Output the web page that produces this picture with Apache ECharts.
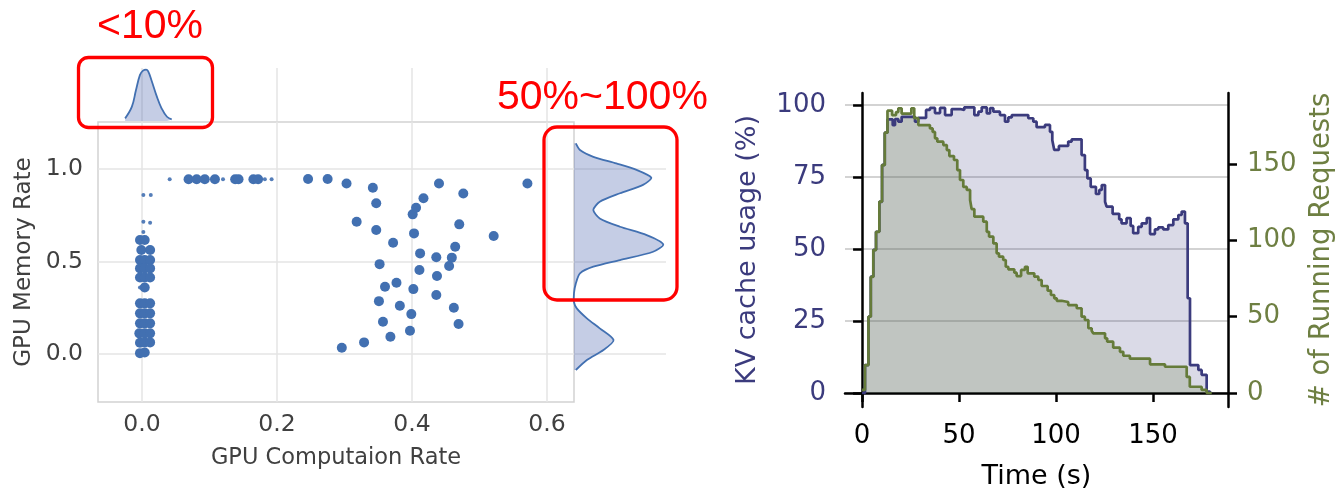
<!DOCTYPE html>
<html>
<head>
<meta charset="utf-8">
<script src="https://cdn.jsdelivr.net/npm/echarts@6/dist/echarts.min.js"></script>
<style>
  html, body { margin: 0; padding: 0; background: #fff; }
  #chart { width: 1337px; height: 492px; }
</style>
</head>
<body>
<div id="chart"></div>
<script>
// ---------------- Left panel: GPU computation vs memory (joint plot) ----------------
const scatterMain = [
  // cluster at ~0 computation
  [-0.003, 0.616], [0.004, 0.616], [-0.001, 0.562], [0.012, 0.562],
  [-0.003, 0.508], [0.004, 0.508], [0.012, 0.508],
  [-0.003, 0.463], [0.004, 0.463], [0.012, 0.463],
  [-0.003, 0.414], [0.004, 0.414], [0.012, 0.414],
  [0.004, 0.36],
  [-0.003, 0.274], [0.004, 0.274], [0.012, 0.274],
  [-0.003, 0.22], [0.004, 0.22], [0.012, 0.22],
  [-0.003, 0.166], [0.004, 0.166], [0.012, 0.166],
  [-0.004, 0.112], [0.004, 0.112], [0.012, 0.112],
  [-0.003, 0.061], [0.004, 0.063], [0.012, 0.063],
  [-0.003, 0.005], [0.004, 0.008],
  // row at high memory
  [0.069, 0.945], [0.081, 0.945], [0.093, 0.945], [0.108, 0.945], [0.138, 0.945],
  [0.143, 0.945], [0.165, 0.945], [0.172, 0.945], [0.246, 0.946], [0.275, 0.946],
  // spread points
  [0.303, 0.922], [0.342, 0.899], [0.347, 0.815], [0.318, 0.715], [0.347, 0.670],
  [0.372, 0.602], [0.352, 0.486], [0.360, 0.364], [0.377, 0.385], [0.351, 0.286],
  [0.382, 0.261], [0.357, 0.175], [0.368, 0.094], [0.329, 0.063], [0.296, 0.034],
  [0.397, 0.126], [0.399, 0.216], [0.402, 0.351], [0.411, 0.454], [0.412, 0.544],
  [0.403, 0.652], [0.401, 0.755], [0.406, 0.791], [0.417, 0.842], [0.440, 0.922],
  [0.476, 0.868], [0.470, 0.701], [0.464, 0.580], [0.459, 0.521], [0.455, 0.476],
  [0.436, 0.523], [0.437, 0.422], [0.436, 0.319], [0.462, 0.250], [0.469, 0.162],
  [0.521, 0.638], [0.571, 0.922]
];
const scatterFaint = [
  [0.002, 0.86], [0.013, 0.86], [0.002, 0.715], [0.012, 0.71], [0.002, 0.66],
  [-0.003, 0.36], [0.041, 0.945], [0.120, 0.945], [0.182, 0.945], [0.192, 0.945]
];
// marginal density of computation rate (top)
const topKdeX       = [-0.025, -0.015, -0.009, -0.003, 0.0015, 0.006, 0.009, 0.014, 0.022, 0.029, 0.037, 0.044];
const topKdeDensity = [0.05, 0.27, 0.58, 0.87, 0.95, 0.97, 0.94, 0.77, 0.46, 0.24, 0.08, 0.03];
// marginal density of memory rate (right)
const rightKdeY = [1.139, 1.103, 1.066, 1.03, 0.995, 0.953, 0.914, 0.869, 0.823, 0.778, 0.733, 0.688,
  0.643, 0.593, 0.553, 0.508, 0.472, 0.436, 0.382, 0.33, 0.28, 0.247, 0.193, 0.139, 0.076, 0.022, -0.032, -0.086];
const rightKdeDensity = [0.02, 0.065, 0.21, 0.46, 0.68, 0.84, 0.75, 0.50, 0.28, 0.21, 0.28, 0.50,
  0.79, 0.97, 0.86, 0.50, 0.21, 0.065, 0.02, 0.0, 0.0, 0.03, 0.14, 0.28, 0.43, 0.32, 0.14, 0.02];
const compTicks = [0, 0.2, 0.4, 0.6];
const memTicks = [0, 0.5, 1.0];

// ---------------- Right panel: KV cache usage and running requests over time ----------------
const kvTime = [0, 1.5, 3.3, 4.5, 5.8, 7.2, 8.9, 10.3, 11.7, 13.1, 15.8, 17, 18.7, 20.4, 27.3, 29, 33, 35,
  37.6, 40.2, 42.8, 46.2, 50.5, 52.7, 57.9, 60, 61.7, 64.3, 66, 67.7, 71.1, 73.7, 75.4, 77.2, 85.7, 88.3,
  90, 94.3, 96.9, 98.1, 99.1, 101.5, 106.3, 108.1, 113.2, 114.9, 116.2, 117.9, 120.6, 122.3, 123.6, 125.3,
  126.1, 129.2, 132.6, 133.8, 136.4, 138.5, 139.8, 142.4, 144.2, 146.8, 148.5, 151, 152.7, 155.3, 157.9,
  160.5, 163.1, 164.8, 166.5, 167.9, 169.1, 173.4, 175.1, 177.7, 179.4];
const kvUsage = [0, 9.7, 26.5, 40.4, 49.7, 56, 66.4, 79.2, 90.4, 95, 93, 95.1, 94.2, 95.9, 94.2, 95.5, 98.3, 99,
  97.2, 99, 96.5, 98.6, 98.3, 99.2, 96.5, 97.7, 99.2, 97.1, 98.9, 97.7, 96.5, 94.2, 95.7, 96.5, 95.4, 94.2,
  92.3, 93.1, 90.7, 87.8, 84.4, 85.8, 87.3, 88.1, 82.6, 77.4, 74.5, 71.6, 69.1, 70.5, 72.2, 66.4,
  64.7, 62.2, 60.3, 58.9, 60.7, 58, 55.5, 57.7, 58.9, 60.7, 55.2, 56.8, 57.5, 56.8, 58.3,
  60.3, 61.8, 63, 58.9, 32.9, 9.7, 8, 6.3, 0.5, 0];
const reqTime = [0, 1.5, 3.3, 4.5, 5.8, 7.2, 8.9, 10.3, 11.7, 13.1, 15.5, 17.5, 18.7, 20.4, 25.4, 26.9, 29, 35,
  36.4, 37.6, 38.8, 41.9, 43.7, 45, 47.4, 49.1, 50.5, 52.2, 54, 55.7, 56.5, 57.9, 62.5, 64.3, 65.5, 67.7,
  69.4, 70.6, 72.8, 74.1, 75.4, 78.5, 79.7, 82, 84, 85.4, 88.8, 90.9, 92.6, 95.7, 97.4, 99.1, 100.4, 102.9,
  106.3, 110.7, 113.2, 114.9, 116.7, 118.4, 119.2, 125.3, 126.4, 129.5, 133, 134.7, 138.1, 148.5, 156.2,
  167.4, 169, 175.1, 177.7, 180.3];
const reqCount = [2, 18.3, 50, 76, 93.6, 105.6, 125.3, 149.3, 170.5, 184.9, 182, 184, 186.5, 183, 186.5, 180, 175.5, 173.3,
  171, 166.8, 164.6, 162.4, 159.1, 155.2, 152.6, 146, 139.5, 135, 133, 126.4, 120.5, 115.5, 112.2, 105.6, 102.4, 98,
  91.5, 89.3, 87.1, 82.7, 81, 78.8, 76.6, 80.6, 82.7, 78.4, 76.2, 74, 70.1, 67, 64.2, 62, 60.4, 59.6,
  57.6, 55.5, 50, 47.8, 42.4, 40.8, 39.1, 35.8, 33.6, 29.7, 27, 24.4, 22.5, 18.8, 17.2,
  10.5, 4.1, 2, 0, 0];
const timeTicks = [0, 50, 100, 150];
const kvTicks = [0, 25, 50, 75, 100];
const reqTicks = [0, 50, 100, 150];

// ---------------- Styling ----------------
const FONT = 'DejaVu Sans';
const SEA_BLUE = '#4270b1';
const KDE_FILL = 'rgba(64,90,170,0.3)';
const GRID_L = '#e4e4e4';
const TXT_L = '#404040';
const NAVY = '#3b3b7d';
const OLIVE = '#657b3a';
const OLIVE_TXT = '#6e7f42';

const chart = echarts.init(document.getElementById('chart'), null, { renderer: 'canvas' });

const zip = (a, b) => a.map((v, i) => [v, b[i]]);

const option = {
  animation: false,
  backgroundColor: '#ffffff',
  grid: [
    { left: 98, top: 122, width: 476, height: 280, show: true, borderColor: '#d2d2d2', borderWidth: 1.5,
      backgroundColor: 'transparent', containLabel: false, outerBoundsMode: 'none' },
    { left: 98, top: 68, width: 476, height: 53, containLabel: false, outerBoundsMode: 'none' },
    { left: 574, top: 122, width: 92, height: 280, containLabel: false, outerBoundsMode: 'none' },
    { left: 845, top: 93, width: 383, height: 314, containLabel: false, outerBoundsMode: 'none' }
  ],
  xAxis: [
    {
      gridIndex: 0, type: 'value', min: -0.0652, max: 0.64,
      axisLine: { show: false }, axisTick: { show: false, customValues: compTicks },
      axisLabel: { customValues: compTicks, formatter: v => v.toFixed(1), color: TXT_L, fontFamily: FONT, fontSize: 23.5, margin: 11 },
      splitLine: { show: true, lineStyle: { color: GRID_L, width: 1.5 } },
      name: 'GPU Computaion Rate', nameLocation: 'middle', nameGap: 45,
      nameTextStyle: { color: TXT_L, fontFamily: FONT, fontSize: 22.5 }
    },
    {
      gridIndex: 1, type: 'value', min: -0.0652, max: 0.64,
      axisLine: { show: false }, axisTick: { show: false, customValues: compTicks },
      axisLabel: { show: false, customValues: compTicks },
      splitLine: { show: true, lineStyle: { color: GRID_L, width: 1.5 } }
    },
    { gridIndex: 2, type: 'value', min: 0, max: 1, show: false },
    {
      gridIndex: 3, type: 'value', min: -8.8, max: 188.7,
      axisLine: { show: true, lineStyle: { color: '#000', width: 2.5 } },
      axisTick: { show: true, customValues: timeTicks, length: 9, lineStyle: { color: '#000', width: 2.5 } },
      axisLabel: { customValues: timeTicks, color: '#000', fontFamily: FONT, fontSize: 26, margin: 16 },
      splitLine: { show: false },
      name: 'Time (s)', nameLocation: 'middle', nameGap: 56,
      nameTextStyle: { color: '#000', fontFamily: FONT, fontSize: 27 }
    }
  ],
  yAxis: [
    {
      gridIndex: 0, type: 'value', min: -0.259, max: 1.254,
      axisLine: { show: false }, axisTick: { show: false, customValues: memTicks },
      axisLabel: { customValues: memTicks, formatter: v => v.toFixed(1), color: TXT_L, fontFamily: FONT, fontSize: 23.5, margin: 15 },
      splitLine: { show: true, lineStyle: { color: GRID_L, width: 1.5 } },
      name: 'GPU Memory Rate', nameLocation: 'middle', nameGap: 62,
      nameTextStyle: { color: TXT_L, fontFamily: FONT, fontSize: 23 }
    },
    { gridIndex: 1, type: 'value', min: 0, max: 1, show: false },
    {
      gridIndex: 2, type: 'value', min: -0.259, max: 1.254,
      axisLine: { show: false }, axisTick: { show: false, customValues: memTicks },
      axisLabel: { show: false, customValues: memTicks },
      splitLine: { show: true, lineStyle: { color: GRID_L, width: 1.5 } }
    },
    {
      gridIndex: 3, type: 'value', position: 'left', min: -4.86, max: 104.17,
      axisLine: { show: true, lineStyle: { color: '#000', width: 2.5 } },
      axisTick: { show: true, customValues: kvTicks, length: 9, lineStyle: { color: '#000', width: 2.5 } },
      axisLabel: { customValues: kvTicks, color: NAVY, fontFamily: FONT, fontSize: 26, margin: 19 },
      splitLine: { show: true, lineStyle: { color: '#d3d3d3', width: 2 } },
      name: 'KV cache usage (%)', nameLocation: 'middle', nameGap: 84,
      nameTextStyle: { color: NAVY, fontFamily: FONT, fontSize: 27 }
    },
    {
      gridIndex: 3, type: 'value', position: 'right', min: -9.17, max: 196.5,
      axisLine: { show: true, lineStyle: { color: '#000', width: 2.5 } },
      axisTick: { show: true, customValues: reqTicks, length: 9, lineStyle: { color: '#000', width: 2.5 } },
      axisLabel: { customValues: reqTicks, color: OLIVE_TXT, fontFamily: FONT, fontSize: 26, margin: 19 },
      splitLine: { show: false },
      name: '# of Running Requests', nameLocation: 'middle', nameGap: 80,
      nameTextStyle: { color: OLIVE_TXT, fontFamily: FONT, fontSize: 27.5 }
    }
  ],
  series: [
    {
      type: 'scatter', xAxisIndex: 0, yAxisIndex: 0, data: scatterMain,
      symbol: 'circle', symbolSize: 10,
      itemStyle: { color: SEA_BLUE, opacity: 1 }, z: 5
    },
    {
      type: 'scatter', xAxisIndex: 0, yAxisIndex: 0, data: scatterFaint,
      symbol: 'circle', symbolSize: 4,
      itemStyle: { color: SEA_BLUE, opacity: 0.9 }, z: 5
    },
    {
      type: 'line', xAxisIndex: 1, yAxisIndex: 1, data: zip(topKdeX, topKdeDensity),
      smooth: 0.4, showSymbol: false,
      lineStyle: { color: SEA_BLUE, width: 1.8 },
      areaStyle: { color: KDE_FILL, opacity: 1 }
    },
    {
      type: 'custom', xAxisIndex: 2, yAxisIndex: 2, coordinateSystem: 'cartesian2d',
      data: zip(rightKdeDensity, rightKdeY),
      encode: { x: 0, y: 1 },
      renderItem: function (params, api) {
        if (params.dataIndex !== 0) return null;
        const pts = rightKdeY.map((y, i) => api.coord([rightKdeDensity[i], y]));
        const base = [
          api.coord([0, rightKdeY[rightKdeY.length - 1]]),
          api.coord([0, rightKdeY[0]])
        ];
        return {
          type: 'group',
          children: [
            { type: 'polygon', shape: { points: pts.concat(base) }, style: { fill: KDE_FILL, stroke: null } },
            { type: 'polyline', shape: { points: pts, smooth: 0.25 }, style: { stroke: SEA_BLUE, lineWidth: 1.8, fill: null } }
          ]
        };
      }
    },
    // right panel: areas first, then lines
    {
      type: 'line', xAxisIndex: 3, yAxisIndex: 3, data: zip(kvTime, kvUsage), step: 'end',
      showSymbol: false, lineStyle: { width: 0, opacity: 0 },
      areaStyle: { color: 'rgba(59,59,125,0.19)', opacity: 1 }, z: 2
    },
    {
      type: 'line', xAxisIndex: 3, yAxisIndex: 4, data: zip(reqTime, reqCount), step: 'end',
      showSymbol: false, lineStyle: { width: 0, opacity: 0 },
      areaStyle: { color: 'rgba(101,123,58,0.22)', opacity: 1 }, z: 3
    },
    {
      type: 'line', xAxisIndex: 3, yAxisIndex: 3, data: zip(kvTime, kvUsage), step: 'end',
      showSymbol: false, lineStyle: { color: NAVY, width: 2.7 }, z: 4
    },
    {
      type: 'line', xAxisIndex: 3, yAxisIndex: 4, data: zip(reqTime, reqCount), step: 'end',
      showSymbol: false, lineStyle: { color: OLIVE, width: 2.7 }, z: 5
    }
  ],
  graphic: [
    {
      type: 'text', x: 97, y: 27, z: 100,
      style: { text: '<10%', fill: '#ff0000', font: '41px "Liberation Sans", Arial, sans-serif',
               align: 'left', verticalAlign: 'middle', textAlign: 'left', textVerticalAlign: 'middle' }
    },
    {
      type: 'rect', z: 100,
      shape: { x: 78.5, y: 57.5, width: 134, height: 70, r: 10 },
      style: { fill: null, stroke: '#ff0000', lineWidth: 3.3 }
    },
    {
      type: 'text', x: 497, y: 97.5, z: 100,
      style: { text: '50%~100%', fill: '#ff0000', font: '41px "Liberation Sans", Arial, sans-serif',
               align: 'left', verticalAlign: 'middle', textAlign: 'left', textVerticalAlign: 'middle' }
    },
    {
      type: 'rect', z: 100,
      shape: { x: 544, y: 127, width: 133, height: 173, r: 13 },
      style: { fill: null, stroke: '#ff0000', lineWidth: 3.3 }
    }
  ]
};

chart.setOption(option);
</script>
</body>
</html>
